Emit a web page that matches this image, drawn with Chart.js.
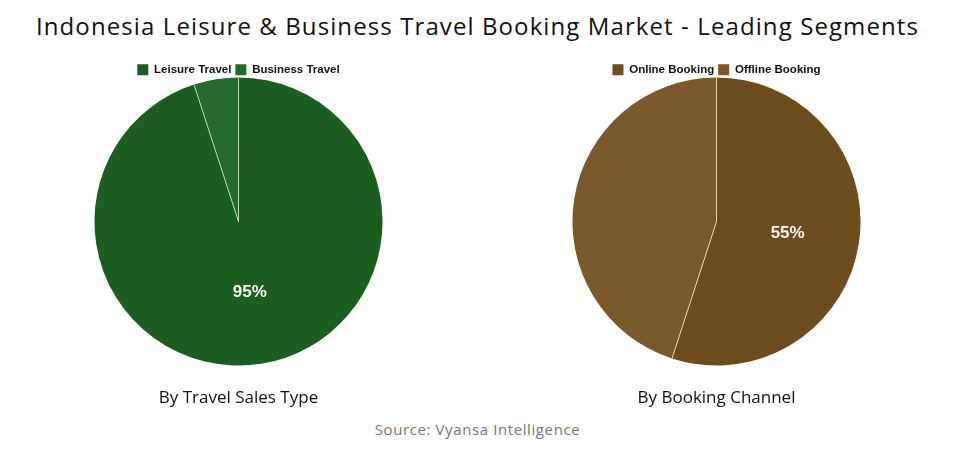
<!DOCTYPE html>
<html>
<head>
<meta charset="utf-8">
<script src="https://cdn.jsdelivr.net/npm/chart.js@4"></script>
<style>
  body { margin: 0; background: #fff; font-family: "Open Sans", sans-serif; }
  #wrap { width: 955px; height: 454px; position: relative; }
  h1 { margin: 0; position: absolute; top: 9px; left: 0; width: 955px; text-align: center;
       font-size: 24px; font-weight: 500; letter-spacing: 1.1px; color: #111; }
  .box { position: absolute; top: 60px; width: 477px; height: 353px; }
  #left { left: 0; }
  #right { left: 478px; }
  .src { position: absolute; top: 419px; width: 955px; text-align: center; font-size: 15px;
         letter-spacing: 0.6px; color: #777; }
</style>
</head>
<body>
<div id="wrap">
  <h1>Indonesia Leisure &amp; Business Travel Booking Market - Leading Segments</h1>
  <div class="box" id="left"><canvas id="salesType"></canvas></div>
  <div class="box" id="right"><canvas id="channel"></canvas></div>
  <div class="src">Source: Vyansa Intelligence</div>
</div>
<script>
const salesLabels = ['Leisure Travel', 'Business Travel'];
const salesValues = [95, 5];
const salesColors = ['#1b5e20', '#256b2c'];

const channelLabels = ['Online Booking', 'Offline Booking'];
const channelValues = [55, 45];
const channelColors = ['#6d4c1e', '#7a5a2a'];

// etiqueta só na fatia maior, no meio do raio
const bigLabel = {
    id: 'bigLabel',
    afterDatasetsDraw(chart) {
        const ctx = chart.ctx;
        const data = chart.data.datasets[0].data;
        const total = data.reduce((a, b) => a + b, 0);
        const maxIdx = data.indexOf(Math.max(...data));
        const arc = chart.getDatasetMeta(0).data[maxIdx];
        const mid = (arc.startAngle + arc.endAngle) / 2;
        const r = arc.outerRadius / 2;
        ctx.save();
        ctx.fillStyle = '#fafaf0';
        ctx.font = 'bold 17px "Liberation Sans", Arial, sans-serif';
        ctx.textAlign = 'center';
        ctx.textBaseline = 'middle';
        ctx.fillText(Math.round(data[maxIdx] / total * 100) + '%', arc.x + Math.cos(mid) * r, arc.y + Math.sin(mid) * r);
        ctx.restore();
    }
};

// linhas claras só entre as fatias, sem contorno externo
const sliceLines = {
    id: 'sliceLines',
    afterDatasetsDraw(chart, args, opts) {
        const ctx = chart.ctx;
        const arcs = chart.getDatasetMeta(0).data;
        ctx.save();
        ctx.strokeStyle = opts.color;
        ctx.lineWidth = 1;
        arcs.forEach(arc => {
            ctx.beginPath();
            ctx.moveTo(arc.x, arc.y);
            ctx.lineTo(arc.x + Math.cos(arc.startAngle) * arc.outerRadius, arc.y + Math.sin(arc.startAngle) * arc.outerRadius);
            ctx.stroke();
        });
        ctx.restore();
    }
};

// legenda mais colada na pizza
const tightLegend = {
    id: 'tightLegend',
    afterInit(chart) {
        const legend = chart.legend;
        if (!legend) return;
        const fit = legend.fit;
        legend.fit = function() {
            fit.call(this);
            this.height -= 8;
        };
    }
};

function makePie(id, labels, values, colors, border, subtitle) {
    new Chart(document.getElementById(id), {
        type: 'pie',
        data: {
            labels: labels,
            datasets: [{
                data: values,
                backgroundColor: colors,
                borderWidth: 0
            }]
        },
        options: {
            responsive: true,
            maintainAspectRatio: false,
            animation: false,
            layout: { padding: 0 },
            plugins: {
                legend: {
                    position: 'top',
                    labels: {
                        boxWidth: 11,
                        boxHeight: 11,
                        padding: 4,
                        color: '#111',
                        font: { family: '"Liberation Sans", Arial, sans-serif', size: 11.5, weight: 'bold' }
                    }
                },
                title: {
                    display: true,
                    text: subtitle,
                    position: 'bottom',
                    color: '#111',
                    padding: { top: 22, bottom: 5 },
                    font: { family: '"Open Sans", sans-serif', size: 17, weight: 'normal' }
                },
                sliceLines: { color: border },
                tooltip: { enabled: false }
            }
        },
        plugins: [sliceLines, bigLabel, tightLegend]
    });
}

makePie('salesType', salesLabels, salesValues, salesColors, '#b9dbb0', 'By Travel Sales Type');
makePie('channel', channelLabels, channelValues, channelColors, '#e6d6ad', 'By Booking Channel');
</script>
</body>
</html>
